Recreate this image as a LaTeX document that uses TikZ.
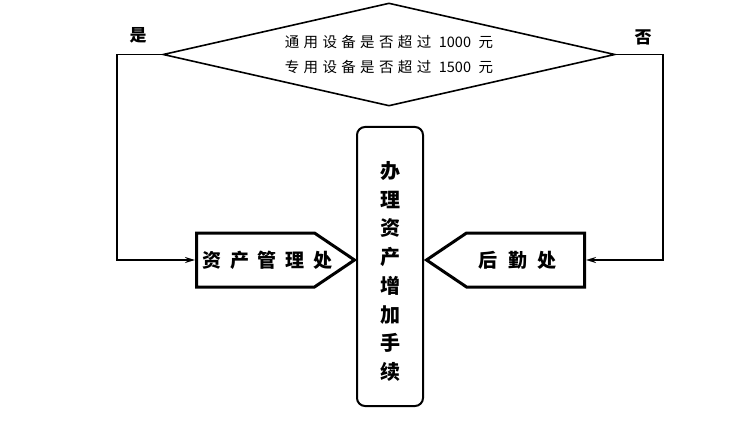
\documentclass[tikz,border=0pt]{standalone}
\usepackage{fontspec}
\newfontfamily\cjk{Noto Sans CJK SC}
\usetikzlibrary{arrows.meta}
\usetikzlibrary{positioning}
\usetikzlibrary{shapes.geometric}
\usetikzlibrary{shapes.symbols}
\newcommand{\plain}[1]{{\addfontfeature{LetterSpace=0}#1}}
\newcommand{\slim}[1]{\makebox[0pt]{#1}}
\tikzset{decision/.style = {draw, diamond, aspect = 4.39, line width = 1.6, minimum width = 452, minimum height = 103, inner sep = 0, align = center, font = \cjk\addfontfeature{LetterSpace=30}\fontsize{14.5}{25}\selectfont}}
\tikzset{office/.style = {draw, signal, line width = 3, minimum width = 158, minimum height = 54, signal pointer angle = 68, inner sep = 0, font = \cjk\bfseries\addfontfeature{LetterSpace=45}\fontsize{19}{19}\selectfont}}
\tikzset{task/.style = {draw, rectangle, rounded corners = 8, line width = 2, minimum width = 66, minimum height = 279, inner sep = 0, align = center, font = \cjk\bfseries\fontsize{20}{28.7}\selectfont}}
\tikzset{link/.style = {line width = 1.6, -{Stealth[length = 10, width = 6]}}}
\tikzset{answer/.style = {inner sep = 0, font = \cjk\bfseries\fontsize{17}{17}\selectfont}}

\begin{document}
\begin{tikzpicture}[x = 1pt, y = -1pt]
      \useasboundingbox (0, 0) rectangle (751, 438);

      \node [decision] (check) at (389, 54.5) {通用设备是否超过 \plain{1000} 元\\专用设备是否超过 \plain{1500} 元};

      \node [task] (handle) at (390, 266.5) {\rule{0pt}{27pt}办\\理\\资\\产\\增\\加\\手\\续};

      \node [office, signal to = east, anchor = west] (asset) at (195, 260) {\slim{\hspace{24pt}资产管理处}};
      \node [office, signal to = west, anchor = east, font = \cjk\bfseries\addfontfeature{LetterSpace=55}\fontsize{19}{19}\selectfont] (logistics) at (586, 260) {\slim{\hspace{-16pt}后勤处}};

      \coordinate (yes) at (117, 54.5);
      \coordinate (no) at (663, 54.5);

      \draw [link] (check.west) -- (yes) |- (asset.west);
      \draw [link] (check.east) -- (no) |- (logistics.east);

      \node [answer] (yeslabel) at (138, 35) {是};
      \node [answer] (nolabel) at (643, 37) {否};
    \end{tikzpicture}
\end{document}
